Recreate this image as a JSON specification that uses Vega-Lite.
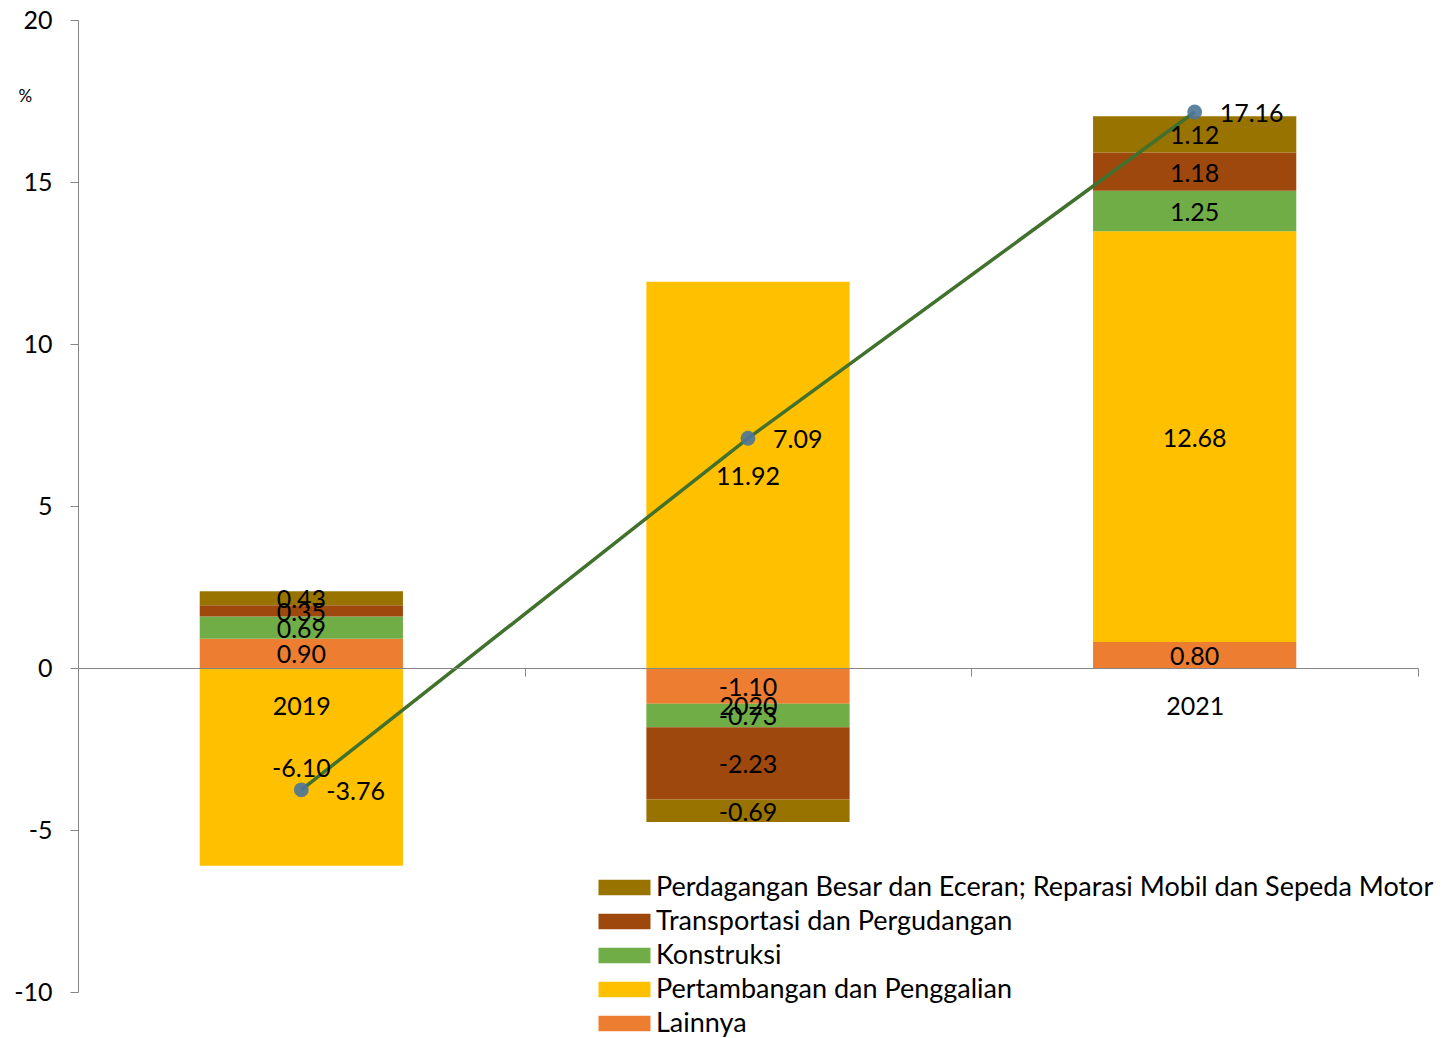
{
  "$schema": "https://vega.github.io/schema/vega-lite/v6.json",
  "width": 1340,
  "height": 972,
  "autosize": "none",
  "padding": {"left": 78, "top": 20, "right": 35, "bottom": 46},
  "config": {
    "view": {"stroke": null},
    "font": "Lato",
    "locale": {"number": {"decimal": ".", "thousands": ",", "grouping": [3], "currency": ["", ""], "minus": "-"}},
    "axis": {"domainColor": "#868686", "tickColor": "#868686", "labelColor": "#000000", "labelFontSize": 25, "labelFont": "Lato", "grid": false},
    "legend": {
      "orient": "none", "legendX": 533, "legendY": 854, "padding": 0,
      "symbolType": "M-2,-0.6H2V0.6H-2Z", "symbolSize": 676, "symbolStrokeWidth": 0,
      "labelFontSize": 27, "labelFont": "Lato", "labelColor": "#000000", "labelOffset": 18, "labelLimit": 1000, "rowPadding": 6
    }
  },
  "datasets": {
    "parts": [
      {"year": "2019", "category": "Lainnya", "ord": 1, "value": 0.90, "label": "0.90"},
      {"year": "2019", "category": "Pertambangan dan Penggalian", "ord": 2, "value": -6.10, "label": "-6.10"},
      {"year": "2019", "category": "Konstruksi", "ord": 3, "value": 0.69, "label": "0.69"},
      {"year": "2019", "category": "Transportasi dan Pergudangan", "ord": 4, "value": 0.35, "label": "0.35"},
      {"year": "2019", "category": "Perdagangan Besar dan Eceran; Reparasi Mobil dan Sepeda Motor", "ord": 5, "value": 0.43, "label": "0.43"},
      {"year": "2020", "category": "Lainnya", "ord": 1, "value": -1.10, "label": "-1.10"},
      {"year": "2020", "category": "Pertambangan dan Penggalian", "ord": 2, "value": 11.92, "label": "11.92"},
      {"year": "2020", "category": "Konstruksi", "ord": 3, "value": -0.73, "label": "-0.73"},
      {"year": "2020", "category": "Transportasi dan Pergudangan", "ord": 4, "value": -2.23, "label": "-2.23"},
      {"year": "2020", "category": "Perdagangan Besar dan Eceran; Reparasi Mobil dan Sepeda Motor", "ord": 5, "value": -0.69, "label": "-0.69"},
      {"year": "2021", "category": "Lainnya", "ord": 1, "value": 0.80, "label": "0.80"},
      {"year": "2021", "category": "Pertambangan dan Penggalian", "ord": 2, "value": 12.68, "label": "12.68"},
      {"year": "2021", "category": "Konstruksi", "ord": 3, "value": 1.25, "label": "1.25"},
      {"year": "2021", "category": "Transportasi dan Pergudangan", "ord": 4, "value": 1.18, "label": "1.18"},
      {"year": "2021", "category": "Perdagangan Besar dan Eceran; Reparasi Mobil dan Sepeda Motor", "ord": 5, "value": 1.12, "label": "1.12"}
    ],
    "totals": [
      {"year": "2019", "total": -3.76, "label": "-3.76"},
      {"year": "2020", "total": 7.09, "label": "7.09"},
      {"year": "2021", "total": 17.16, "label": "17.16"}
    ]
  },
  "layer": [
    {
      "data": {"name": "parts"},
      "mark": {"type": "bar", "width": {"band": 0.455}},
      "encoding": {
        "x": {"field": "year", "type": "nominal", "sort": null,
              "scale": {"domain": ["2019", "2020", "2021"], "paddingInner": 0, "paddingOuter": 0},
              "axis": {"title": null, "labelAngle": 0, "offset": -324, "tickBand": "extent", "tickSize": 8, "labelPadding": 18, "zindex": 1}},
        "y": {"field": "value", "type": "quantitative", "stack": "zero",
              "scale": {"domain": [-10, 20], "nice": false, "zero": false},
              "axis": {"values": [-10, -5, 0, 5, 10, 15, 20], "tickSize": 8, "labelPadding": 18,
                       "title": "%", "titleAngle": 0, "titleX": -60, "titleY": 76, "titleAlign": "left", "titleBaseline": "middle",
                       "titleFontSize": 17, "titleFontWeight": "normal", "titleFont": "Lato", "titleColor": "#000000"}},
        "color": {"field": "category", "type": "nominal",
                  "scale": {"domain": ["Perdagangan Besar dan Eceran; Reparasi Mobil dan Sepeda Motor", "Transportasi dan Pergudangan", "Konstruksi", "Pertambangan dan Penggalian", "Lainnya"],
                            "range": ["#997300", "#9E480E", "#70AD47", "#FFC000", "#ED7D31"]},
                  "legend": {"title": null}},
        "order": {"field": "ord", "type": "quantitative", "sort": "ascending"}
      }
    },
    {
      "data": {"name": "totals"},
      "mark": {"type": "line", "color": "#41712c", "strokeWidth": 3.5},
      "encoding": {
        "x": {"field": "year", "type": "nominal", "sort": null},
        "y": {"field": "total", "type": "quantitative"}
      }
    },
    {
      "data": {"name": "totals"},
      "mark": {"type": "point", "filled": true, "size": 220, "color": "#4e7598", "opacity": 0.9, "strokeWidth": 0},
      "encoding": {
        "x": {"field": "year", "type": "nominal", "sort": null},
        "y": {"field": "total", "type": "quantitative"}
      }
    },
    {
      "data": {"name": "totals"},
      "mark": {"type": "text", "align": "left", "baseline": "middle", "dx": 25, "dy": 2, "fontSize": 25, "font": "Lato", "color": "#000000"},
      "encoding": {
        "x": {"field": "year", "type": "nominal", "sort": null},
        "y": {"field": "total", "type": "quantitative"},
        "text": {"field": "label", "type": "nominal"}
      }
    },
    {
      "data": {"name": "parts"},
      "mark": {"type": "text", "align": "center", "baseline": "middle", "dy": 2, "fontSize": 25, "font": "Lato", "color": "#000000"},
      "encoding": {
        "x": {"field": "year", "type": "nominal", "sort": null},
        "y": {"field": "value", "type": "quantitative", "stack": "zero", "bandPosition": 0.5},
        "order": {"field": "ord", "type": "quantitative", "sort": "ascending"},
        "text": {"field": "label", "type": "nominal"}
      }
    }
  ]
}
